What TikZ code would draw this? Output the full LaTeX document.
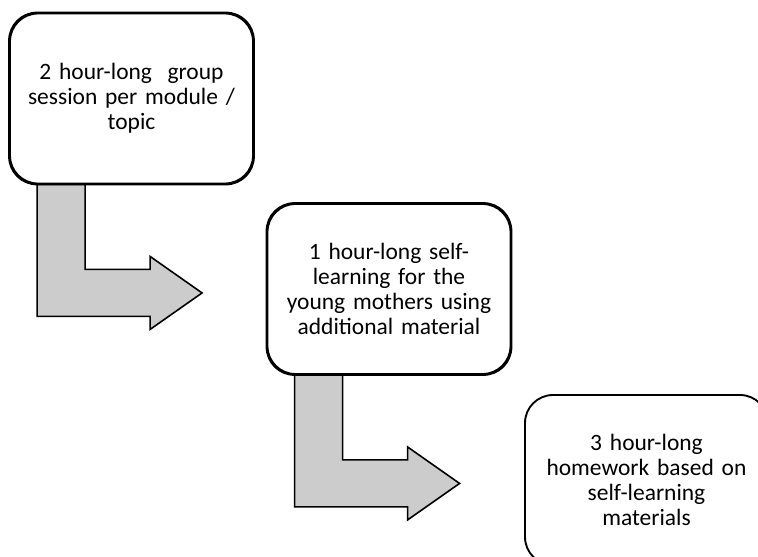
\documentclass[tikz,border=0pt]{standalone}
\usepackage{fontspec}
\setmainfont{Carlito}
\usetikzlibrary{positioning}

\tikzset{
  stepbox/.style={draw, line width=1.4pt, rounded corners=21pt, fill=white,
    minimum width=182.25pt, minimum height=127.5pt, text width=175pt,
    align=center, font=\fontsize{17.6}{18.8}\selectfont},
  bentarrow/.style={draw, line width=1.2pt, fill=gray!40, line join=miter}
}

\begin{document}
\begin{tikzpicture}[x=0.75pt, y=-0.75pt]
  \useasboundingbox (0,0) rectangle (758,557);
  \clip (0,0) rectangle (758,557);

  % Steps
  \node[stepbox] (hours2) at (131.5,98.5) {2 hour-long~ group\\session per module /\\topic};
  \node[stepbox] (hours1) at (389,289) {1 hour-long self-\\learning for the\\young mothers using\\additional material};
  \node[stepbox] (hours3) at (646.5,480) {3 hour-long\\homework based on\\self-learning\\materials};

  % Bent arrows from one step to the next
  \foreach \from in {hours2, hours1}
  {
    \draw[bentarrow] (\from.south west) ++(28,0) -- ++(48,0) -- ++(0,85)
      -- ++(65,0) -- ++(0,-13) -- ++(52,36.5) -- ++(-52,36.5) -- ++(0,-13)
      -- ++(-113,0) -- cycle;
  }

  % Boxes again on top of the arrow stems
  \foreach \step in {hours2, hours1}
  {
    \draw[line width=1.4pt, rounded corners=21pt]
      (\step.south west) rectangle (\step.north east);
  }
\end{tikzpicture}
\end{document}
